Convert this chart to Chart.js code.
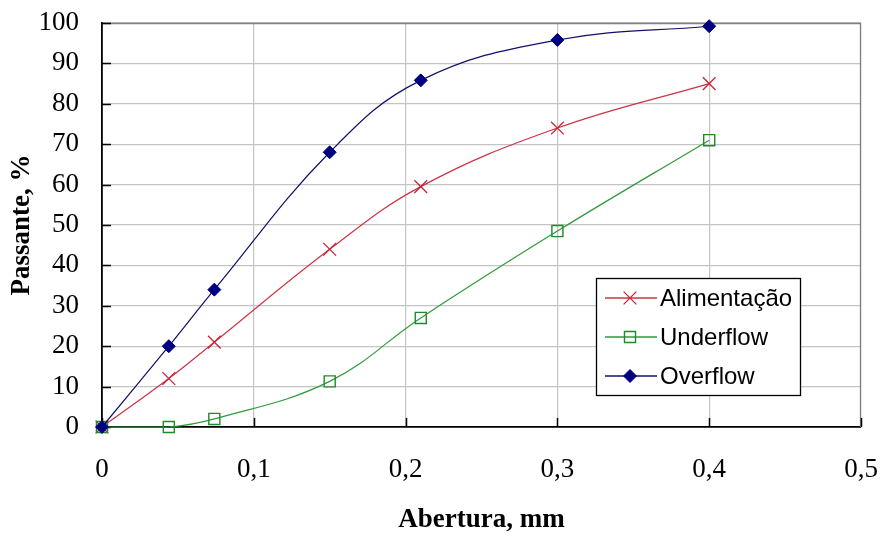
<!DOCTYPE html>
<html>
<head>
<meta charset="utf-8">
<script src="https://cdn.jsdelivr.net/npm/chart.js@4/dist/chart.umd.min.js"></script>
<style>
html,body{margin:0;padding:0;background:#fff;}
#wrap{width:882px;height:536px;}
</style>
</head>
<body>
<div id="wrap"><canvas id="c" width="882" height="536"></canvas></div>
<script>
// ---- data ----
const abertura = [0, 0.044, 0.074, 0.15, 0.21, 0.3, 0.4];
const alimentacao = [0, 12, 21, 44, 59.5, 74, 85];
const underflow = [0, 0, 2, 11.3, 27, 48.5, 71];
const overflow = [0, 20, 34, 68, 85.8, 95.8, 99.2];
const seriesNames = ['Alimentação', 'Underflow', 'Overflow'];
const xTickValues = [0, 0.1, 0.2, 0.3, 0.4, 0.5];
const yTickValues = [0, 10, 20, 30, 40, 50, 60, 70, 80, 90, 100];
const xTitle = 'Abertura, mm';
const yTitle = 'Passante, %';

const toPts = arr => abertura.map((x, i) => ({x: x, y: arr[i]}));
const fmtX = v => (Math.abs(v) < 1e-9 ? '0' : v.toFixed(1).replace('.', ','));

const styles = [
  {line: '#cc3344', point: '#cc2233', pointStyle: 'crossRot', radius: 9, fill: 'rgba(0,0,0,0)', pw: 1.3},
  {line: '#2f9a3a', point: '#1f8a2a', pointStyle: 'rect', radius: 7.8, fill: 'rgba(0,0,0,0)', pw: 1.4},
  {line: '#10106a', point: '#000080', pointStyle: 'rectRot', radius: 6.5, fill: '#000080', pw: 1}
];
const seriesData = [alimentacao, underflow, overflow];

const datasets = seriesData.map((arr, i) => ({
  label: seriesNames[i],
  data: toPts(arr),
  borderColor: styles[i].line,
  borderWidth: 1.2,
  tension: 0.4,
  pointStyle: styles[i].pointStyle,
  pointRadius: styles[i].radius,
  pointHoverRadius: styles[i].radius,
  pointBorderColor: styles[i].point,
  pointBackgroundColor: styles[i].fill,
  pointBorderWidth: styles[i].pw,
  clip: false,
  order: 2 - i
}));

const innerTicks = {
  id: 'innerTicks',
  beforeDatasetsDraw(chart) {
    const {ctx, chartArea: a, scales: {x, y}} = chart;
    ctx.save();
    ctx.strokeStyle = '#808080';
    ctx.lineWidth = 1.3;
    ctx.beginPath();
    ctx.moveTo(a.left, a.top + 0.5); ctx.lineTo(a.right, a.top + 0.5);
    ctx.moveTo(a.right - 0.5, a.top); ctx.lineTo(a.right - 0.5, a.bottom);
    ctx.stroke();
    ctx.strokeStyle = '#000';
    ctx.lineWidth = 1.5;
    ctx.beginPath();
    yTickValues.forEach(v => {
      const py = Math.round(y.getPixelForValue(v)) + 0.5;
      ctx.moveTo(a.left, py); ctx.lineTo(a.left + 9, py);
    });
    xTickValues.forEach(v => {
      const px = Math.round(x.getPixelForValue(v)) + 0.5;
      ctx.moveTo(px, a.bottom); ctx.lineTo(px, a.bottom - 9);
    });
    ctx.stroke();
    ctx.restore();
  }
};

function drawMarker(ctx, st, cx, cy) {
  ctx.save();
  ctx.strokeStyle = st.point;
  ctx.fillStyle = st.fill;
  ctx.lineWidth = st.pw;
  const r = st.radius;
  ctx.beginPath();
  if (st.pointStyle === 'crossRot') {
    const o = Math.SQRT1_2 * r;
    ctx.moveTo(cx - o, cy - o); ctx.lineTo(cx + o, cy + o);
    ctx.moveTo(cx - o, cy + o); ctx.lineTo(cx + o, cy - o);
    ctx.stroke();
  } else if (st.pointStyle === 'rect') {
    const s = Math.SQRT1_2 * r;
    ctx.rect(cx - s, cy - s, 2 * s, 2 * s);
    ctx.stroke();
  } else {
    ctx.moveTo(cx, cy - r); ctx.lineTo(cx + r, cy); ctx.lineTo(cx, cy + r); ctx.lineTo(cx - r, cy);
    ctx.closePath();
    ctx.fill(); ctx.stroke();
  }
  ctx.restore();
}

const customLegend = {
  id: 'customLegend',
  afterDraw(chart) {
    const ctx = chart.ctx;
    const bx = 596, by = 278, bw = 204, bh = 117;
    ctx.save();
    ctx.fillStyle = '#fff';
    ctx.fillRect(bx, by, bw, bh);
    ctx.strokeStyle = '#000';
    ctx.lineWidth = 1.3;
    ctx.strokeRect(bx + 0.5, by + 0.5, bw, bh);
    ctx.font = '24px "Liberation Sans", Arial, sans-serif';
    ctx.textBaseline = 'middle';
    ctx.textAlign = 'left';
    chart.data.datasets.forEach((ds, i) => {
      const cy = by + 20 + i * 39;
      ctx.strokeStyle = ds.borderColor;
      ctx.lineWidth = 1.3;
      ctx.beginPath();
      ctx.moveTo(605, cy); ctx.lineTo(657, cy);
      ctx.stroke();
      drawMarker(ctx, styles[i], 630, cy);
      ctx.fillStyle = '#000';
      ctx.fillText(ds.label, 660, cy + 1);
    });
    ctx.restore();
  }
};

new Chart(document.getElementById('c'), {
  type: 'line',
  data: {datasets: datasets},
  options: {
    responsive: false,
    animation: false,
    events: [],
    layout: {padding: {left: 0, right: 21, top: 23, bottom: 0}},
    plugins: {legend: {display: false}, tooltip: {enabled: false}},
    scales: {
      x: {
        type: 'linear',
        min: 0, max: 0.5,
        afterFit(s) { s.height = 109; s.paddingLeft = 0; s.paddingRight = 0; },
        afterBuildTicks(s) { s.ticks = xTickValues.map(v => ({value: v})); },
        ticks: {
          callback: v => fmtX(v),
          font: {family: '"Liberation Serif", "Times New Roman", serif', size: 27},
          color: '#000',
          padding: 27,
          maxRotation: 0
        },
        grid: {color: '#c4c4c4', lineWidth: 1.2, drawTicks: false},
        border: {color: '#000', width: 1.8},
        title: {
          display: true, text: xTitle, color: '#000',
          font: {family: '"Liberation Serif", "Times New Roman", serif', size: 27, weight: 'bold'},
          padding: {top: 0, bottom: 0}
        }
      },
      y: {
        type: 'linear',
        min: 0, max: 100,
        afterFit(s) { s.width = 102; s.paddingTop = 0; s.paddingBottom = 0; },
        afterBuildTicks(s) { s.ticks = yTickValues.map(v => ({value: v})); },
        ticks: {
          font: {family: '"Liberation Serif", "Times New Roman", serif', size: 27},
          color: '#000',
          padding: 23
        },
        grid: {color: '#c4c4c4', lineWidth: 1.2, drawTicks: false},
        border: {color: '#000', width: 1.8},
        title: {
          display: true, text: yTitle, color: '#000',
          font: {family: '"Liberation Serif", "Times New Roman", serif', size: 27, weight: 'bold'},
          padding: {top: 6, bottom: 0}
        }
      }
    }
  },
  plugins: [innerTicks, customLegend]
});
</script>
</body>
</html>
